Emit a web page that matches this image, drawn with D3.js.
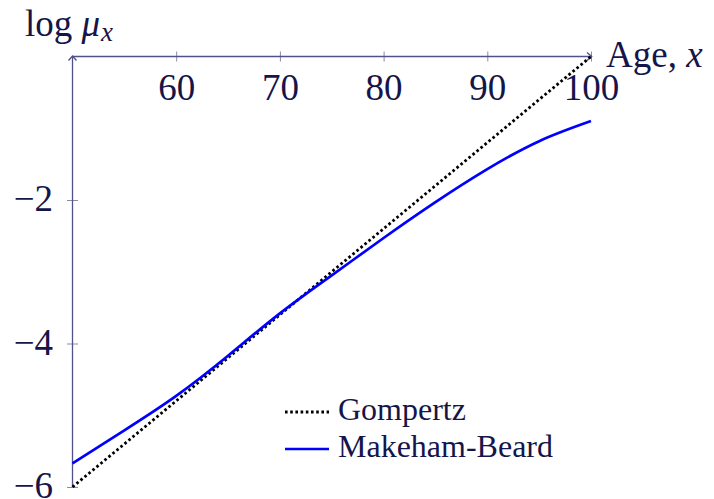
<!DOCTYPE html>
<html>
<head>
<meta charset="utf-8">
<script src="https://cdn.jsdelivr.net/npm/d3@7"></script>
<style>
  html, body { margin: 0; padding: 0; background: #fff; }
  svg { display: block; }
  text { font-family: "Liberation Serif", "DejaVu Serif", serif; fill: #15154a; }
</style>
</head>
<body>
<svg id="chart" width="714" height="499"></svg>
<script>
// Ages (years) and log force of mortality for the two laws
const gompertzAges = [50, 100];
const gompertzLogMu = [-6, 0];

const makehamAges = [50, 55, 60, 65, 70, 75, 80, 85, 90, 95, 100];
const makehamLogMu = [-5.67, -5.21, -4.73, -4.17, -3.58, -3.05, -2.53, -2.03, -1.57, -1.18, -0.90];

const xTicks = [60, 70, 80, 90, 100];
const yTicks = [-6, -4, -2];

const seriesNames = ["Gompertz", "Makeham-Beard"];

const svg = d3.select("#chart");
const axisColor = "#50508a";
const tickColor = "#8a8aa8";

const x = d3.scaleLinear().domain([50, 100]).range([72.5, 591]);
const y = d3.scaleLinear().domain([-6, 0]).range([487, 56.5]);

// x axis along log mu = 0, labels beneath the line
const xAxis = svg.append("g")
  .attr("transform", `translate(0,${y(0)})`)
  .call(d3.axisBottom(x).tickValues(xTicks).tickSizeOuter(0).tickSizeInner(5));
xAxis.select(".domain").remove();
xAxis.selectAll(".tick line").attr("y1", -5).attr("y2", 5).attr("stroke", tickColor);
xAxis.selectAll(".tick text")
  .attr("y", 43.5).attr("dy", null)
  .attr("font-size", 37)
  .style("font-family", '"Liberation Serif", serif')
  .attr("fill", "#15154a")
  .text(d => d);

// y axis at age 50
const yAxis = svg.append("g")
  .attr("transform", `translate(${x(50)},0)`)
  .call(d3.axisLeft(y).tickValues(yTicks).tickSizeOuter(0).tickSizeInner(5));
yAxis.select(".domain").remove();
yAxis.selectAll(".tick line").attr("x1", -5.5).attr("x2", 5.5).attr("stroke", tickColor);
yAxis.selectAll(".tick text")
  .attr("x", -19.5).attr("dy", null).attr("y", 10.5)
  .attr("text-anchor", "end")
  .attr("font-size", 37)
  .style("font-family", '"Liberation Serif", serif')
  .attr("fill", "#15154a")
  .text(d => "\u2212" + Math.abs(d));

// axis lines with open arrow tips
const axes = svg.append("g").attr("fill", "none").attr("stroke", axisColor).attr("stroke-width", 1.3);
axes.append("line").attr("x1", x(50)).attr("x2", x(100) + 0.7).attr("y1", y(0)).attr("y2", y(0));
axes.append("line").attr("x1", x(50)).attr("x2", x(50)).attr("y1", y(-6)).attr("y2", y(0) - 0.5);
axes.append("path")
  .attr("d", `M${x(100) - 4},${y(0) - 4} L${x(100) + 0.7},${y(0)} L${x(100) - 4},${y(0) + 4}`);
axes.append("path")
  .attr("d", `M${x(50) - 4},${y(0) + 4} L${x(50)},${y(0) - 0.5} L${x(50) + 4},${y(0) + 4}`);

// curves
const line = d3.line().x(d => x(d[0])).y(d => y(d[1]));
const smooth = d3.line().x(d => x(d[0])).y(d => y(d[1])).curve(d3.curveNatural);

const dotted = { width: 2.8, dash: "2.6,2.6" };

svg.append("path")
  .datum(gompertzAges.map((a, i) => [a, gompertzLogMu[i]]))
  .attr("d", line)
  .attr("fill", "none").attr("stroke", "#000").attr("stroke-width", dotted.width)
  .attr("stroke-dasharray", dotted.dash);

svg.append("path")
  .datum(makehamAges.map((a, i) => [a, makehamLogMu[i]]))
  .attr("d", smooth)
  .attr("fill", "none").attr("stroke", "#0000ff").attr("stroke-width", 2.7);

// axis titles
const yTitle = svg.append("text").attr("x", 25).attr("y", 36).attr("font-size", 37);
yTitle.append("tspan").text("log ");
yTitle.append("tspan").attr("font-style", "italic").text("\u03bc");
yTitle.append("tspan").attr("font-style", "italic").attr("font-size", 27).attr("dy", 5).attr("dx", 1).text("x");

const xTitle = svg.append("text").attr("x", 606).attr("y", 67).attr("font-size", 37);
xTitle.append("tspan").text("Age, ");
xTitle.append("tspan").attr("font-style", "italic").text("x");

// legend
const legend = svg.append("g");
const legendRows = [
  { name: seriesNames[0], stroke: "#000", dash: dotted.dash, width: dotted.width },
  { name: seriesNames[1], stroke: "#0000ff", dash: null, width: 2.7 }
];
legendRows.forEach((r, i) => {
  const yy = 412 + i * 37;
  legend.append("line")
    .attr("x1", 285).attr("x2", 329).attr("y1", yy).attr("y2", yy)
    .attr("stroke", r.stroke).attr("stroke-width", r.width)
    .attr("stroke-dasharray", r.dash);
  legend.append("text")
    .attr("x", 338).attr("y", yy + 7.5)
    .attr("font-size", 32)
    .text(r.name);
});
</script>
</body>
</html>
